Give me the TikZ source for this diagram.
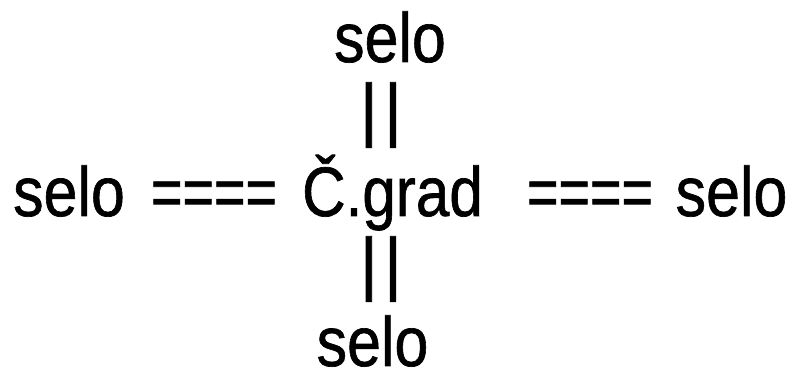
\documentclass[tikz,border=0pt]{standalone}
\usepackage{fontspec}
\setmainfont{Liberation Sans}[FakeBold=1]
\newcommand\sqx[2]{\scalebox{#1}[1]{#2}}
\begin{document}
\begin{tikzpicture}[x=1pt,y=-1pt,
  lbl/.style={anchor=base,inner sep=0pt,outer sep=0pt,font=\fontsize{70}{80}\selectfont}]
\useasboundingbox[fill=white] (0,0) rectangle (796,374);
\node[lbl] (top) at (390,62) {\sqx{0.87}{selo}};
\node[lbl] (tbars) at (381,133) {|\kern6pt|};
\node[lbl] (left) at (69,216) {\sqx{0.87}{selo}};
\node[lbl] (leq) at (214,216) {\sqx{0.77}{====}};
\node[lbl] (city) at (392.5,216) {\sqx{0.86}{Č.grad}};
\node[lbl] (req) at (590,216) {\sqx{0.77}{====}};
\node[lbl] (right) at (731.5,216) {\sqx{0.87}{selo}};
\node[lbl] (bbars) at (381,287) {|\kern6pt|};
\node[lbl] (bottom) at (372.5,366) {\sqx{0.87}{selo}};
\end{tikzpicture}
\end{document}
